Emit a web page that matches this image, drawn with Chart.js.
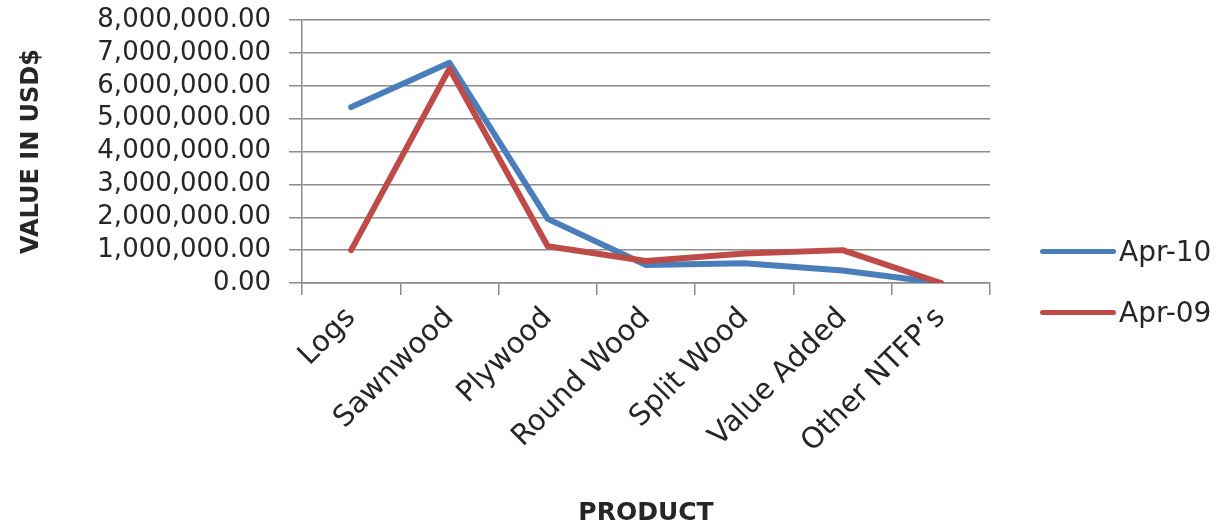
<!DOCTYPE html>
<html lang="en">
<head>
    <meta charset="UTF-8">
    <title>Value in USD$ by Product</title>
    <script src="https://cdn.jsdelivr.net/npm/chart.js"></script>
    <style>
        body {
            margin: 0;
            background: #fff;
            font-family: 'DejaVu Sans', sans-serif;
        }
        .wrap {
            position: relative;
            width: 1228px;
            height: 532px;
        }
        .legend {
            position: absolute;
            left: 1040px;
            top: 0;
        }
        .legend-item {
            position: absolute;
            left: 0;
            display: flex;
            align-items: center;
            white-space: nowrap;
            font-size: 28px;
            color: #262626;
        }
        .legend-line {
            width: 76px;
            height: 5px;
            border-radius: 3px;
            margin-right: 3px;
        }
    </style>
</head>
<body>
    <div class="wrap">
        <canvas id="chart" width="1228" height="532"></canvas>
        <div class="legend" id="legend"></div>
    </div>

    <script>
        // data
        const products = ['Logs', 'Sawnwood', 'Plywood', 'Round Wood', 'Split Wood', 'Value Added', 'Other NTFP\u2019s'];
        const apr10 = [5350000, 6700000, 1950000, 550000, 600000, 380000, 0];
        const apr09 = [1000000, 6520000, 1120000, 670000, 900000, 1000000, 0];
        const seriesNames = ['Apr-10', 'Apr-09'];
        const seriesColors = ['#4a7ebb', '#be4b48'];

        const gridColor = '#8c8c8c';
        const textColor = '#262626';

        const chart = new Chart(document.getElementById('chart').getContext('2d'), {
            type: 'line',
            data: {
                labels: products,
                datasets: [
                    { label: seriesNames[0], data: apr10, borderColor: seriesColors[0], order: 1 },
                    { label: seriesNames[1], data: apr09, borderColor: seriesColors[1], order: 0 }
                ]
            },
            options: {
                responsive: false,
                animation: false,
                devicePixelRatio: 1,
                layout: { padding: { top: 20, right: 238, bottom: 4, left: 17 } },
                elements: {
                    line: { borderWidth: 6, tension: 0, borderCapStyle: 'round', borderJoinStyle: 'round', fill: false },
                    point: { radius: 0, hoverRadius: 0 }
                },
                plugins: {
                    legend: { display: false },
                    tooltip: { enabled: false }
                },
                scales: {
                    x: {
                        offset: true,
                        grid: {
                            offset: true,
                            drawOnChartArea: false,
                            drawTicks: true,
                            tickLength: 12,
                            color: gridColor,
                            lineWidth: 1.5
                        },
                        border: { color: gridColor, width: 1.5 },
                        ticks: {
                            minRotation: 45,
                            maxRotation: 45,
                            autoSkip: false,
                            padding: 6,
                            color: textColor,
                            font: { family: 'DejaVu Sans', size: 29 }
                        },
                        title: {
                            display: true,
                            text: 'PRODUCT',
                            color: textColor,
                            padding: { top: 4, bottom: 0 },
                            font: { family: 'DejaVu Sans', size: 25, weight: 'bold' }
                        },
                        afterFit: (scale) => {
                            scale.height = 532 - 283 - 4;
                            scale.paddingTop = 0;
                        }
                    },
                    y: {
                        min: 0,
                        max: 8000000,
                        ticks: {
                            stepSize: 1000000,
                            autoSkip: false,
                            padding: 18,
                            color: textColor,
                            font: { family: 'DejaVu Sans', size: 26, lineHeight: 1 },
                            callback: (v) => Number(v).toLocaleString('en-US', { minimumFractionDigits: 2, maximumFractionDigits: 2 })
                        },
                        grid: {
                            color: gridColor,
                            lineWidth: 1.5,
                            tickLength: 13
                        },
                        border: { color: gridColor, width: 1.5 },
                        title: {
                            display: true,
                            text: 'VALUE IN USD$',
                            color: textColor,
                            padding: { top: 0, bottom: 0 },
                            font: { family: 'DejaVu Sans', size: 24, weight: 'bold' }
                        },
                        afterFit: (scale) => {
                            scale.width = 285;
                            scale.paddingTop = 0;
                            scale.paddingBottom = 0;
                        }
                    }
                }
            }
        });

        // legend sits lower than Chart.js would put it, so build it by hand
        const legendTops = [251, 312];
        const legend = document.getElementById('legend');
        seriesNames.forEach((name, i) => {
            const item = document.createElement('div');
            item.className = 'legend-item';
            item.style.top = (legendTops[i] - 16) + 'px';
            item.style.height = '32px';
            item.innerHTML = '<span class="legend-line" style="background:' + seriesColors[i] + '"></span>' + name;
            legend.appendChild(item);
        });
    </script>
</body>
</html>
